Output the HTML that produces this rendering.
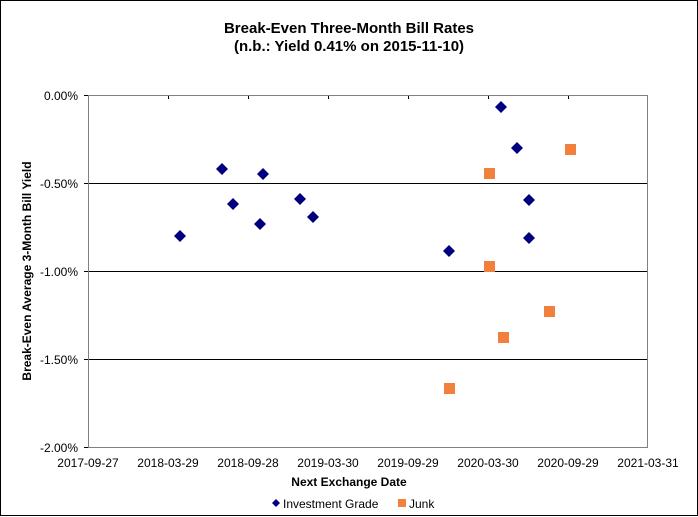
<!DOCTYPE html>
<html><head><style>
body{margin:0;background:#fff}
svg{display:block;font-family:"Liberation Sans",Arial,sans-serif}
</style></head><body>
<svg width="698" height="517" viewBox="0 0 698 517">
<rect x="0.5" y="0.5" width="697" height="515" fill="#fff" stroke="#000"/>
<text x="349" y="33" text-anchor="middle" font-size="15" font-weight="bold">Break-Even Three-Month Bill Rates</text>
<text x="349" y="51" text-anchor="middle" font-size="15" font-weight="bold">(n.b.: Yield  0.41% on 2015-11-10)</text>
<g stroke="#000" stroke-width="1">
<line x1="88" y1="183.5" x2="648" y2="183.5"/>
<line x1="88" y1="271.5" x2="648" y2="271.5"/>
<line x1="88" y1="359.5" x2="648" y2="359.5"/>
<line x1="88" y1="95.5" x2="648" y2="95.5"/>
<line x1="88.5" y1="95" x2="88.5" y2="447"/>
<line x1="84" y1="95.5" x2="88" y2="95.5"/><line x1="84" y1="183.5" x2="88" y2="183.5"/><line x1="84" y1="271.5" x2="88" y2="271.5"/><line x1="84" y1="359.5" x2="88" y2="359.5"/><line x1="84" y1="447.5" x2="88" y2="447.5"/>
<line x1="168.5" y1="95" x2="168.5" y2="99"/><line x1="248.5" y1="95" x2="248.5" y2="99"/><line x1="328.5" y1="95" x2="328.5" y2="99"/><line x1="408.5" y1="95" x2="408.5" y2="99"/><line x1="488.5" y1="95" x2="488.5" y2="99"/><line x1="568.5" y1="95" x2="568.5" y2="99"/>
</g>
<rect x="88.5" y="95.5" width="559" height="352" fill="none" stroke="#808080"/>
<g font-size="12" text-anchor="end">
<text x="78" y="100">0.00%</text><text x="78" y="188">-0.50%</text><text x="78" y="276">-1.00%</text><text x="78" y="364">-1.50%</text><text x="78" y="452">-2.00%</text>
</g>
<g font-size="12" text-anchor="middle">
<text x="88" y="467">2017-09-27</text><text x="168" y="467">2018-03-29</text><text x="248" y="467">2018-09-28</text><text x="328" y="467">2019-03-30</text><text x="408" y="467">2019-09-29</text><text x="488" y="467">2020-03-30</text><text x="568" y="467">2020-09-29</text><text x="648" y="467">2021-03-31</text>
</g>
<text x="349" y="486" text-anchor="middle" font-size="12" font-weight="bold">Next Exchange Date</text>
<text transform="translate(31,271) rotate(-90)" text-anchor="middle" font-size="12" font-weight="bold">Break-Even Average 3-Month  Bill Yield</text>
<g fill="#000080">
<path d="M180 230l6 6-6 6-6-6z"/><path d="M222 163l6 6-6 6-6-6z"/><path d="M233 198l6 6-6 6-6-6z"/><path d="M260 218l6 6-6 6-6-6z"/><path d="M263 168l6 6-6 6-6-6z"/><path d="M300 193l6 6-6 6-6-6z"/><path d="M313 211l6 6-6 6-6-6z"/><path d="M449 245l6 6-6 6-6-6z"/><path d="M501 101l6 6-6 6-6-6z"/><path d="M517 142l6 6-6 6-6-6z"/><path d="M529 194l6 6-6 6-6-6z"/><path d="M529 232l6 6-6 6-6-6z"/>
<path d="M276 499l4 4-4 4-4-4z"/>
</g>
<g fill="#f0803c">
<rect x="484" y="168" width="11" height="11"/><rect x="484" y="261" width="11" height="11"/><rect x="498" y="332" width="11" height="11"/><rect x="444" y="383" width="11" height="11"/><rect x="544" y="306" width="11" height="11"/><rect x="565" y="144" width="11" height="11"/>
<rect x="398" y="499" width="8" height="8"/>
</g>
<text x="283" y="508" font-size="12">Investment Grade</text>
<text x="409" y="508" font-size="12">Junk</text>
</svg>
</body></html>
